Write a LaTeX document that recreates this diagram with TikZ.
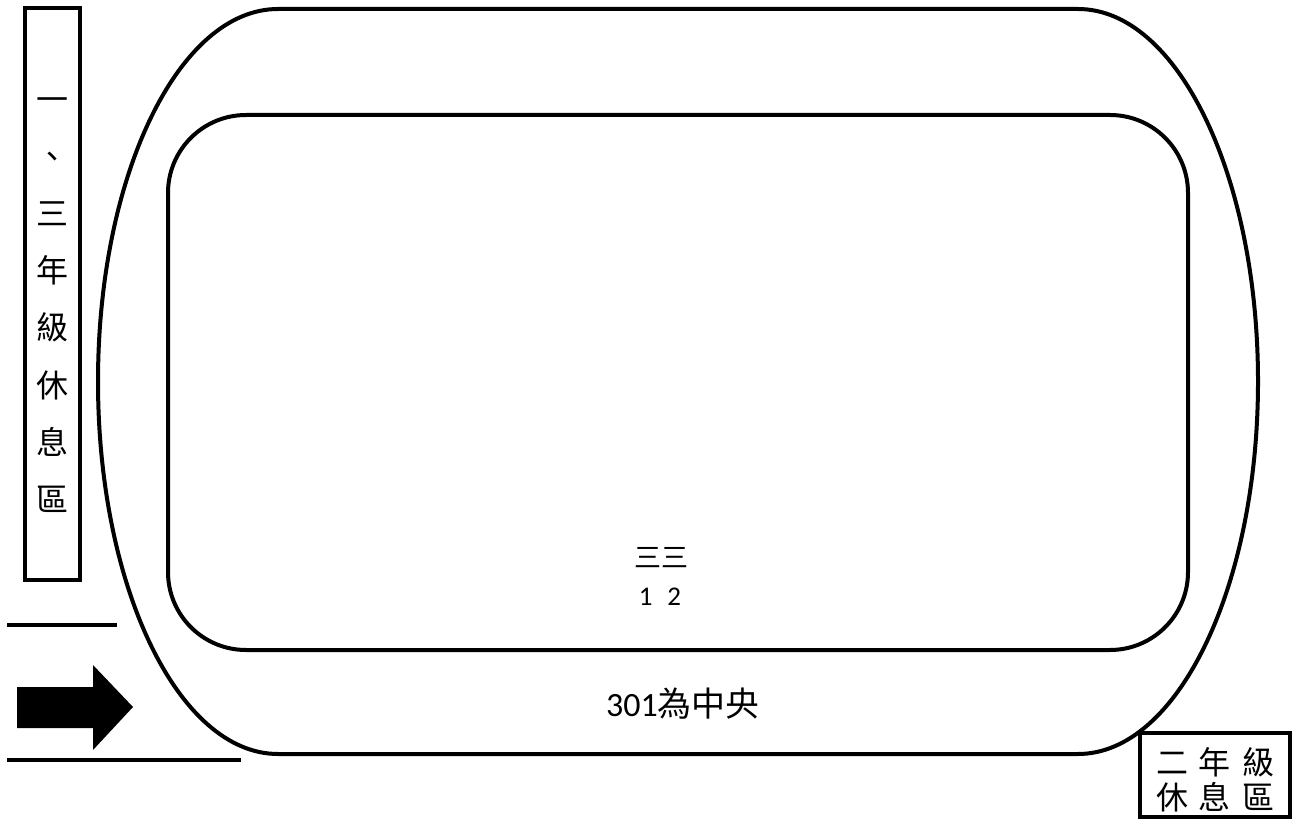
\documentclass[tikz,border=0pt]{standalone}
\usepackage{fontspec}
\setmainfont{Carlito}
\newfontfamily\cjk{Noto Sans CJK TC}
\tikzset{
  track/.style={line width=4pt, line join=round},
  boxed/.style={draw, line width=4pt, inner sep=0pt, fill=white},
  guide/.style={line width=4pt},
  label/.style={inner sep=0pt, align=center},
}
\begin{document}
\begin{tikzpicture}[x=1pt,y=1pt]
\useasboundingbox (0,0) rectangle (1295,820);
% outer track
\draw[track] (278,811) -- (1078,811)
  arc[start angle=90, end angle=-90, x radius=180pt, y radius=372.5pt]
  -- (278,66)
  arc[start angle=270, end angle=90, x radius=180pt, y radius=372.5pt] -- cycle;
% inner field
\draw[track, rounded corners=78pt] (168,170) rectangle (1188,705);
% left rest area
\node[boxed, minimum width=55pt, minimum height=572pt] (lbox) at (52.5,526) {};
\node[label, font=\cjk\fontsize{32}{57.2}\selectfont] (ltext) at (52,515)
  {一\\、\\三\\年\\級\\休\\息\\區};
% right rest area
\node[boxed, minimum width=150pt, minimum height=84pt] (rbox) at (1215,45) {};
\node[label, font=\cjk\fontsize{32}{35}\selectfont] (rtext) at (1215,40)
  {二\hspace{11pt}年\hspace{11pt}級\\休\hspace{11pt}息\hspace{11pt}區};
% entry lines and arrow
\coordinate (l1a) at (7,195);
\coordinate (l1b) at (117,195);
\coordinate (l2a) at (7,60);
\coordinate (l2b) at (241,60);
\draw[guide] (l1a) -- (l1b);
\draw[guide] (l2a) -- (l2b);
\fill (17,92) -- (93,92) -- (93,70) -- (133,113) -- (93,155) -- (93,133) -- (17,133) -- cycle;
% centre texts
\node[label, font=\cjk\fontsize{27}{27}\selectfont] (three) at (661,262) {三三};
\node[label, font=\fontsize{27}{27}\selectfont] (nums) at (660,223) {1\hspace{15pt}2};
\node[label, font=\fontsize{34}{34}\selectfont] (centre) at (683,116) {301{\cjk 為中央}};
\end{tikzpicture}
\end{document}
